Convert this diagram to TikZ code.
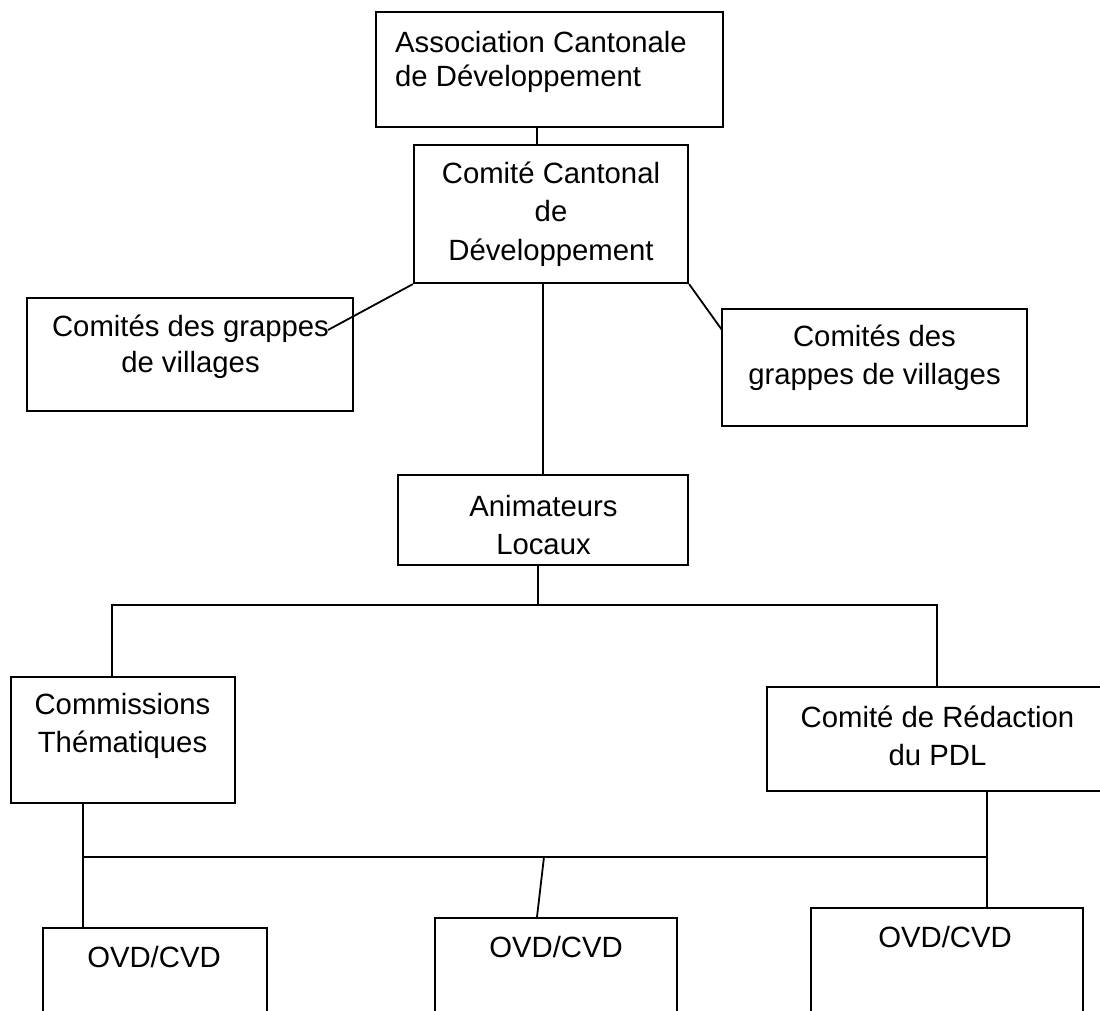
\documentclass[tikz,border=0pt]{standalone}
\usepackage{fontspec}
\setmainfont{Liberation Sans}

\begin{document}
\begin{tikzpicture}[x=1pt,y=-1pt,
  orgbox/.style={draw, line width=2.2pt, inner sep=0pt},
  txt/.style={align=center, inner sep=0pt, font=\fontsize{29.3}{38.5}\selectfont},
  link/.style={line width=1.8pt}]
\useasboundingbox (0,0) rectangle (1100,1011);
\clip (0,0) rectangle (1100,1011);
\fill[white] (0,0) rectangle (1100,1011);

\node[orgbox, minimum width=347pt, minimum height=115pt] (assoc) at (549.5,69.5) {};
\node[orgbox, minimum width=274pt, minimum height=138pt] (cantonal) at (551,214) {};
\node[orgbox, minimum width=326pt, minimum height=113pt] (grappesL) at (190,354.5) {};
\node[orgbox, minimum width=305pt, minimum height=117pt] (grappesR) at (874.5,367.5) {};
\node[orgbox, minimum width=290pt, minimum height=90pt] (anim) at (543,520) {};
\node[orgbox, minimum width=224pt, minimum height=126pt] (comm) at (123,740) {};
\node[orgbox, minimum width=340pt, minimum height=104pt] (redac) at (937,739) {};
\node[orgbox, minimum width=224pt, minimum height=112pt] (ovdA) at (155,984) {};
\node[orgbox, minimum width=242pt, minimum height=122pt] (ovdB) at (556,979) {};
\node[orgbox, minimum width=272pt, minimum height=132pt] (ovdC) at (947,974) {};

\node[txt, anchor=west, align=left, font=\fontsize{29.3}{34.5}\selectfont] (assocT) at (395,62) {Association Cantonale\\de Développement};
\node[txt] (cantonalT) at (551,214) {Comité Cantonal\\de\\Développement};
\node[txt, font=\fontsize{29.3}{35.5}\selectfont] (grappesLT) at (190.5,347) {Comités des grappes\\de villages};
\node[txt] (grappesRT) at (874.5,358) {Comités des\\grappes de villages};
\node[txt] (animT) at (543.5,525) {Animateurs\\Locaux};
\node[txt] (commT) at (122.5,726) {Commissions\\Thématiques};
\node[txt] (redacT) at (937.5,736) {Comité de Rédaction\\du PDL};
\node[txt] (ovdAT) at (154,957) {OVD/CVD};
\node[txt] (ovdBT) at (556,947) {OVD/CVD};
\node[txt] (ovdCT) at (945,937) {OVD/CVD};

\coordinate (top) at (537,0);
\coordinate (endL) at (328,330);
\coordinate (endR) at (722,330);
\coordinate (busL) at (112,605);
\coordinate (busR) at (937,605);
\coordinate (busM) at (538,605);
\coordinate (lowL) at (83,857);
\coordinate (lowR) at (987,857);
\coordinate (lowM) at (544,857);

\draw[link] (top |- assoc.south) -- (top |- cantonal.north);
\draw[link] (cantonal.south west) -- (endL);
\draw[link] (cantonal.south east) -- (endR);
\draw[link] (anim.north |- cantonal.south) -- (anim.north);
\draw[link] (anim.south -| busM) -- (busM);
\draw[link] (busL |- comm.north) -- (busL) -- (busR) -- (redac.north);
\draw[link] (lowL |- comm.south) -- (lowL |- ovdA.north);
\draw[link] (lowL) -- (lowR);
\draw[link] (lowR |- redac.south) -- (lowR |- ovdC.north);
\draw[link] (lowM) -- ([xshift=-19pt]ovdB.north);

\end{tikzpicture}
\end{document}
